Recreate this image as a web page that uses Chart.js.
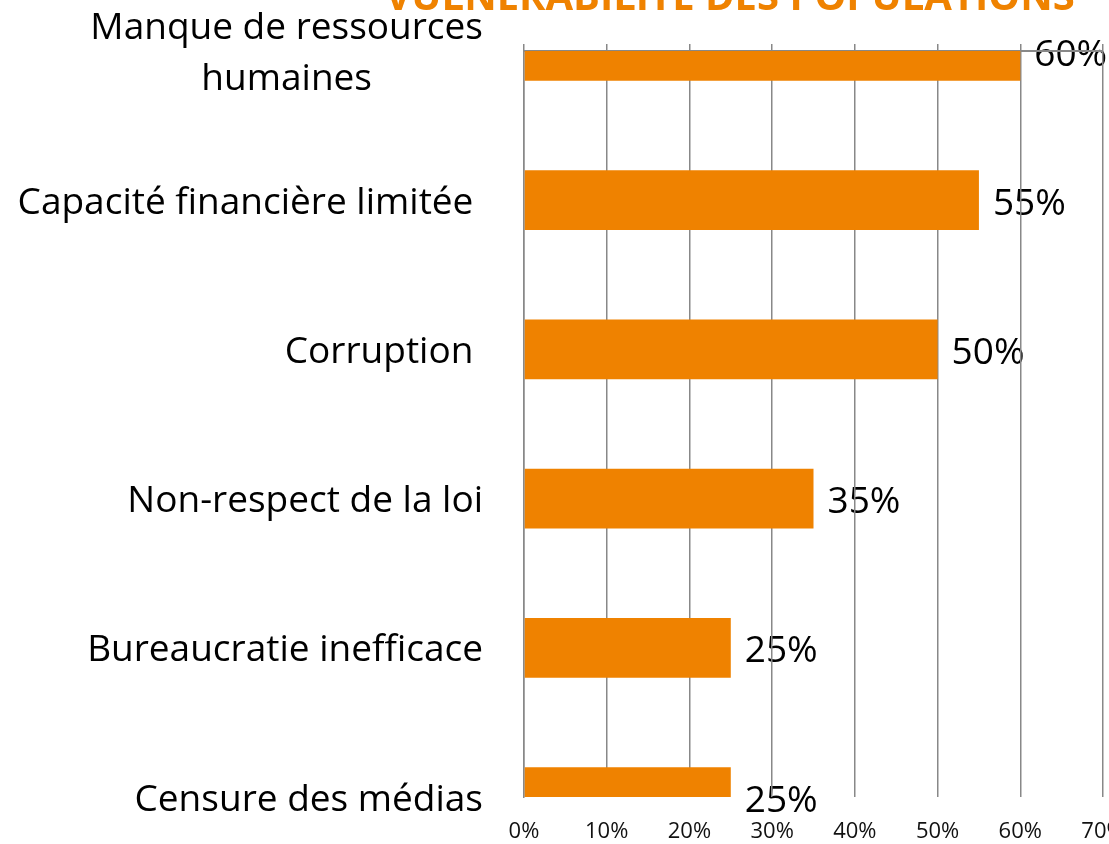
<!DOCTYPE html>
<html lang="fr">
<head>
<meta charset="utf-8">
<title>Vulnérabilité des populations</title>
<script src="https://cdn.jsdelivr.net/npm/chart.js@4.4.1/dist/chart.umd.min.js"></script>
<style>
  html, body { margin: 0; padding: 0; background: #fff; }
  #wrap { width: 1109px; height: 844px; position: relative; }
</style>
</head>
<body>
<div id="wrap"><canvas id="obstaclesChart"></canvas></div>
<script>
// Chart data
const chartTitle = 'VULNÉRABILITÉ DES POPULATIONS';
const categories = [
  ['Manque de ressources', 'humaines'],
  'Capacité financière limitée ',
  'Corruption ',
  'Non-respect de la loi',
  'Bureaucratie inefficace',
  'Censure des médias'
];
const percentValues = [60, 55, 50, 35, 25, 25];
const tickValues = [0, 10, 20, 30, 40, 50, 60, 70];

const ORANGE = '#EF8200';
const GRID = '#888888';
const FONT = '"Open Sans", Lato, sans-serif';

// draws category labels, value labels (under the grid, like the original) and the cut-off title
const textPlugin = {
  id: 'textPlugin',
  beforeDraw(chart) {
    const ctx = chart.ctx;
    const yScale = chart.scales.y;
    const meta = chart.getDatasetMeta(0);
    ctx.save();
    ctx.fillStyle = '#000';
    ctx.font = '37px ' + FONT;
    ctx.textBaseline = 'middle';

    // category labels
    const rightEdge = chart.chartArea.left - 41;
    categories.forEach((lab, i) => {
      const y = yScale.getPixelForValue(i);
      const lines = Array.isArray(lab) ? lab : [lab];
      const lh = 51;
      const widest = Math.max(...lines.map(l => ctx.measureText(l).width));
      lines.forEach((line, j) => {
        const ly = y + (j - (lines.length - 1) / 2) * lh + 3;
        if (lines.length > 1) {
          ctx.textAlign = 'center';
          ctx.fillText(line, rightEdge - widest / 2, ly);
        } else {
          ctx.textAlign = 'right';
          ctx.fillText(line, rightEdge, ly);
        }
      });
    });

    // value labels
    ctx.textAlign = 'left';
    meta.data.forEach((bar, i) => {
      ctx.fillText(percentValues[i] + '%', bar.x + 14, bar.y + 4);
    });

    // title (top of it falls outside the picture)
    ctx.fillStyle = ORANGE;
    ctx.font = 'bold 40px ' + FONT;
    ctx.textAlign = 'center';
    ctx.textBaseline = 'alphabetic';
    ctx.fillText(chartTitle, 730, 10);
    ctx.restore();
  }
};

new Chart(document.getElementById('obstaclesChart'), {
  type: 'bar',
  data: {
    labels: categories,
    datasets: [{
      data: percentValues,
      backgroundColor: ORANGE,
      borderWidth: 0,
      categoryPercentage: 0.5,
      barPercentage: 0.8,
      clip: 0
    }]
  },
  options: {
    indexAxis: 'y',
    responsive: true,
    maintainAspectRatio: false,
    animation: false,
    layout: { padding: { top: 44, right: 6, left: 0, bottom: 0 } },
    plugins: { legend: { display: false }, tooltip: { enabled: false }, title: { display: false } },
    scales: {
      y: {
        type: 'category',
        offset: false,
        grid: { display: false },
        border: { display: true, color: GRID, width: 1.5 },
        ticks: { display: false },
        afterFit(scale) { scale.width = 524; }
      },
      x: {
        position: 'bottom',
        min: 0, max: 70,
        grid: { color: GRID, lineWidth: 1.5, drawTicks: false },
        border: { display: false },
        afterBuildTicks(scale) { scale.ticks = tickValues.map(v => ({ value: v })); },
        ticks: {
          padding: 22,
          color: '#111',
          font: { family: FONT, size: 22 },
          callback: v => v + '%'
        },
        afterFit(scale) {
          scale.height = 47;
          scale.paddingLeft = 0;
          scale.paddingRight = 0;
        }
      },
      xTop: {
        position: 'top',
        min: 0, max: 70,
        grid: { color: GRID, lineWidth: 1.5, drawOnChartArea: false, tickLength: 7 },
        border: { display: true, color: GRID, width: 2 },
        afterBuildTicks(scale) { scale.ticks = tickValues.map(v => ({ value: v })); },
        ticks: { display: false },
        afterFit(scale) {
          scale.paddingLeft = 0;
          scale.paddingRight = 0;
        }
      }
    }
  },
  plugins: [textPlugin]
});
</script>
</body>
</html>
